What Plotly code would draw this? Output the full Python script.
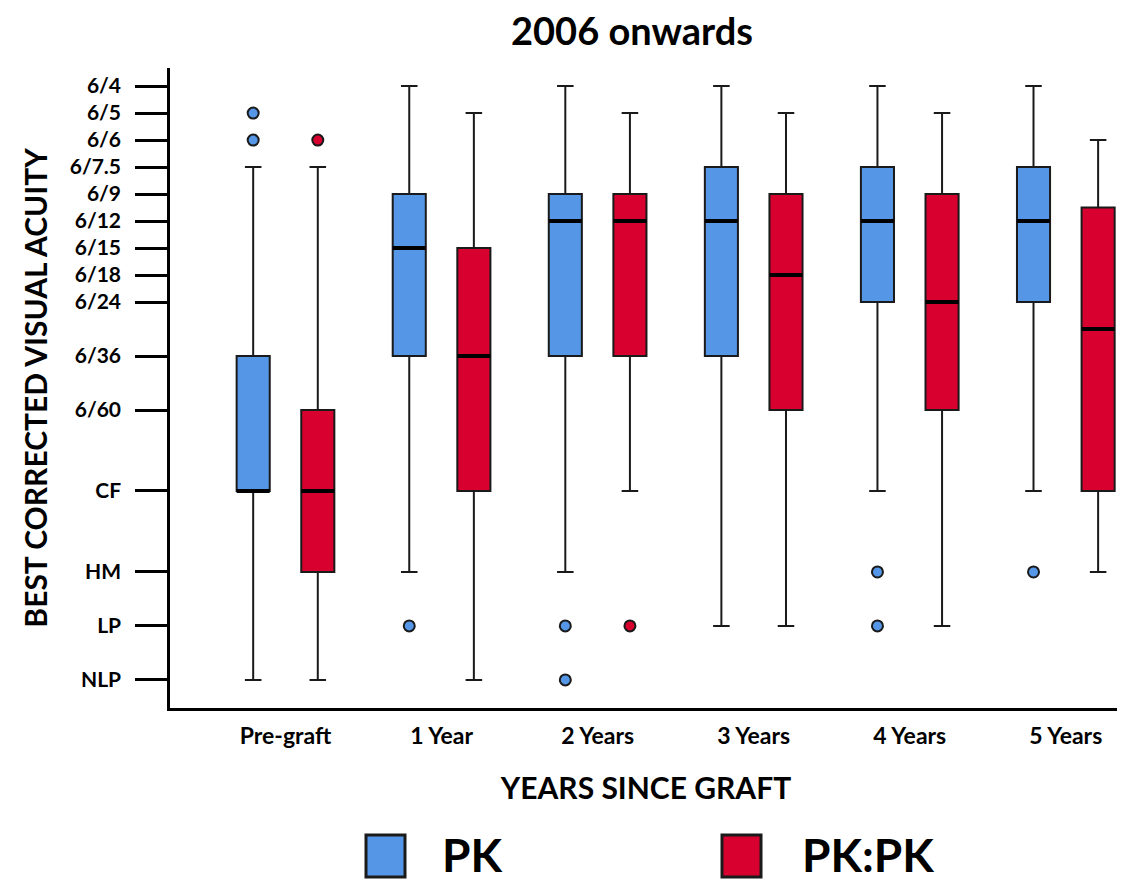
import plotly.graph_objects as go

# ---- Data (acuity positions on ordinal scale: 6/4=0 ... NLP=22) ----
categories = ["Pre-graft", "1 Year", "2 Years", "3 Years", "4 Years", "5 Years"]
tick_labels = ["6/4", "6/5", "6/6", "6/7.5", "6/9", "6/12", "6/15", "6/18", "6/24",
               "6/36", "6/60", "CF", "HM", "LP", "NLP"]
tick_values = [0, 1, 2, 3, 4, 5, 6, 7, 8, 10, 12, 15, 18, 20, 22]

pk_upper = [3, 0, 0, 0, 0, 0]
pk_q1 = [10, 4, 4, 3, 3, 3]
pk_median = [15, 6, 5, 5, 5, 5]
pk_q3 = [15, 10, 10, 10, 8, 8]
pk_lower = [22, 18, 18, 20, 15, 15]
pk_outliers = [[1, 2], [20], [20, 22], [], [18, 20], [18]]

pkpk_upper = [3, 1, 1, 1, 1, 2]
pkpk_q1 = [12, 6, 4, 4, 4, 4.5]
pkpk_median = [15, 10, 5, 7, 8, 9]
pkpk_q3 = [18, 15, 10, 12, 12, 15]
pkpk_lower = [22, 22, 15, 20, 20, 18]
pkpk_outliers = [[2], [], [20], [], [], []]

BLUE = "#5596e6"
RED = "#d7002e"
OFFSET = 0.207
BOXW = 0.212
FONT = "Lato"

fig = go.Figure()

series = [
    ("PK", BLUE, -OFFSET, pk_upper, pk_q1, pk_median, pk_q3, pk_lower, pk_outliers),
    ("PK:PK", RED, OFFSET, pkpk_upper, pkpk_q1, pkpk_median, pkpk_q3, pkpk_lower, pkpk_outliers),
]

for name, color, off, up, q1, med, q3, lo, outs in series:
    xs = [i + off for i in range(len(categories))]
    fig.add_trace(go.Box(
        name=name, x=xs, q1=q1, median=med, q3=q3,
        lowerfence=up, upperfence=lo,
        width=BOXW, whiskerwidth=0.5,
        fillcolor=color, line=dict(color="#1a1a1a", width=2),
        boxpoints=False, showlegend=False, hoverinfo="skip",
    ))
    # thicker median lines
    mx, my = [], []
    for x, m in zip(xs, med):
        mx += [x - BOXW / 2, x + BOXW / 2, None]
        my += [m, m, None]
    fig.add_trace(go.Scatter(x=mx, y=my, mode="lines",
                             line=dict(color="black", width=4),
                             showlegend=False, hoverinfo="skip"))
    # outliers
    ox, oy = [], []
    for x, vals in zip(xs, outs):
        for v in vals:
            ox.append(x)
            oy.append(v)
    fig.add_trace(go.Scatter(x=ox, y=oy, mode="markers",
                             marker=dict(color=color, size=11,
                                         line=dict(color="#1a1a1a", width=2)),
                             showlegend=False, hoverinfo="skip"))

# ---- Layout geometry (page has an 8px body margin) ----
PAGE_OFF = 8
W, H = 1125 - PAGE_OFF, 881 - PAGE_OFF
L, T, R, B = 170 - PAGE_OFF, 68 - PAGE_OFF, 3, 881 - 708
pw, ph = W - L - R, H - T - B


def px_x(p):  # page pixel -> paper x
    return (p - PAGE_OFF - L) / pw


def px_y(p):  # page pixel -> paper y
    return (H - B - (p - PAGE_OFF)) / ph


# ---- Manual legend ----
legend_items = [("PK", BLUE, 366, 440), ("PK:PK", RED, 722, 800)]
shapes = []
annotations = []
for label, color, sx, tx in legend_items:
    shapes.append(dict(type="rect", xref="paper", yref="paper",
                       x0=px_x(sx), x1=px_x(sx + 39), y0=px_y(877), y1=px_y(835),
                       fillcolor=color, line=dict(color="#1a1a1a", width=3)))
    annotations.append(dict(text=f"<b>{label}</b>", xref="paper", yref="paper",
                            x=px_x(tx), y=px_y(854), xanchor="left", yanchor="middle",
                            showarrow=False,
                            font=dict(family=FONT, size=46, color="black")))

fig.update_layout(
    width=W, height=H,
    paper_bgcolor="white", plot_bgcolor="white",
    margin=dict(l=L, r=R, t=T, b=B),
    title=dict(text="<b>2006 onwards</b>", x=(632 - PAGE_OFF) / W, xref="container",
               xanchor="center", y=1 - (32 - PAGE_OFF) / H, yref="container",
               yanchor="middle",
               font=dict(family=FONT, size=38, color="black")),
    boxmode="overlay",
    shapes=shapes, annotations=annotations,
    showlegend=False,
)

fig.update_xaxes(
    range=[-0.74, 5.36], tickmode="array",
    tickvals=list(range(len(categories))),
    ticktext=[f"<b>{c}</b>" for c in categories],
    showline=True, linecolor="black", linewidth=2.5,
    showgrid=False, zeroline=False, ticks="",
    ticklabelstandoff=6,
    tickfont=dict(family=FONT, size=23, color="black"),
    title=dict(text="<b>YEARS SINCE GRAFT</b>", standoff=30,
               font=dict(family=FONT, size=30, color="black")),
)

fig.update_yaxes(
    range=[23.04, -0.67], tickmode="array",
    tickvals=tick_values, ticktext=[f"<b>{t}</b>" for t in tick_labels],
    showline=True, linecolor="black", linewidth=2.5,
    showgrid=False, zeroline=False,
    ticks="outside", ticklen=32, tickwidth=2.5, tickcolor="black",
    ticklabelstandoff=10,
    tickfont=dict(family=FONT, size=21, color="black"),
    title=dict(text="<b>BEST CORRECTED VISUAL ACUITY</b>", standoff=14,
               font=dict(family=FONT, size=30, color="black")),
)

fig.write_html("out.html")
